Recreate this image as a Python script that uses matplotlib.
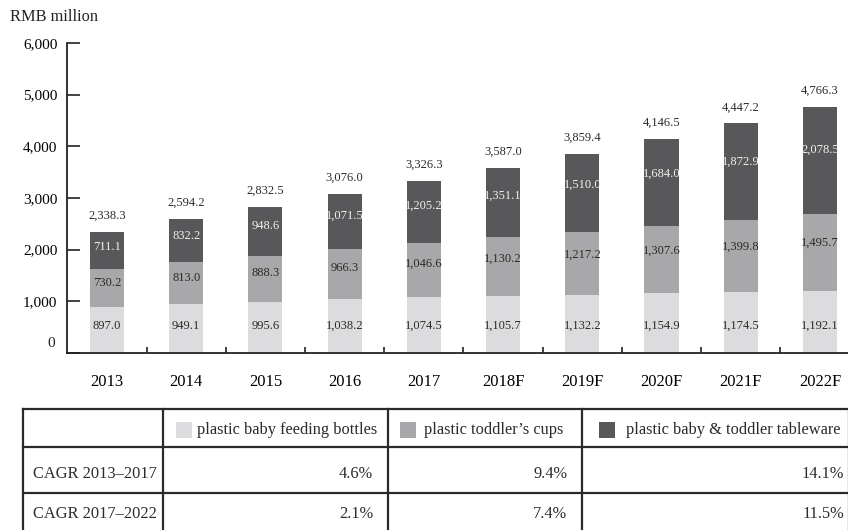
import matplotlib
matplotlib.use("Agg")
import matplotlib.pyplot as plt
from matplotlib.patches import Rectangle
import numpy as np

plt.rcParams['font.family'] = ['Liberation Serif', 'DejaVu Serif']

years = ['2013', '2014', '2015', '2016', '2017', '2018F', '2019F', '2020F', '2021F', '2022F']
bottles = [897.0, 949.1, 995.6, 1038.2, 1074.5, 1105.7, 1132.2, 1154.9, 1174.5, 1192.1]
cups = [730.2, 813.0, 888.3, 966.3, 1046.6, 1130.2, 1217.2, 1307.6, 1399.8, 1495.7]
tableware = [711.1, 832.2, 948.6, 1071.5, 1205.2, 1351.1, 1510.0, 1684.0, 1872.9, 2078.5]
totals = [2338.3, 2594.2, 2832.5, 3076.0, 3326.3, 3587.0, 3859.4, 4146.5, 4447.2, 4766.3]

series_names = ['plastic baby feeding bottles', "plastic toddler\u2019s cups",
                'plastic baby & toddler tableware']
cagr_rows = ['CAGR 2013\u20132017', 'CAGR 2017\u20132022']
cagr_13_17 = ['4.6%', '9.4%', '14.1%']
cagr_17_22 = ['2.1%', '7.4%', '11.5%']

colors = ['#dcdcde', '#a8a8ab', '#58585b']
text_dark = '#2a2a2a'

W, H = 848, 530
fig = plt.figure(figsize=(W / 100, H / 100), dpi=100)


def fx(px):
    return px / W


def fy(py):
    return 1 - py / H


ax = fig.add_axes([fx(67), fy(353), fx(848 - 67), (353 - 43) / H])

x = np.arange(len(years))
bw = 0.43
b0 = np.array(bottles)
b1 = b0 + np.array(cups)

ax.bar(x, bottles, bw, color=colors[0], zorder=2)
ax.bar(x, cups, bw, bottom=b0, color=colors[1], zorder=2)
ax.bar(x, tableware, bw, bottom=b1, color=colors[2], zorder=2)

for i in range(len(years)):
    ax.text(x[i], 520, f'{bottles[i]:,.1f}', ha='center', va='center',
            fontsize=9, color=text_dark, zorder=3)
    ax.text(x[i], b0[i] + 0.63 * cups[i], f'{cups[i]:,.1f}', ha='center', va='center',
            fontsize=9, color=text_dark, zorder=3)
    ax.text(x[i], b1[i] + 0.6 * tableware[i], f'{tableware[i]:,.1f}', ha='center', va='center',
            fontsize=9, color='#f0f0f0', zorder=3)
    ax.annotate(f'{totals[i]:,.1f}', (x[i], totals[i]), xytext=(0, 11.5),
                textcoords='offset points', ha='center', va='center',
                fontsize=9, color=text_dark)

ax.set_xlim(-0.505, 9.354)
ax.set_ylim(0, 6000)

for s in ['top', 'right']:
    ax.spines[s].set_visible(False)
for s in ['left', 'bottom']:
    ax.spines[s].set_linewidth(1.3)
    ax.spines[s].set_color('#222222')

yt = [0, 1000, 2000, 3000, 4000, 5000, 6000]
ax.set_yticks(yt)
ax.set_yticklabels([''] + [f'{v:,}' for v in yt[1:]])
ax.tick_params(axis='y', direction='in', length=9.5, width=1.2, color='#222222',
               pad=7, labelsize=11)
ax.annotate('0', (0, 0), xycoords=('axes fraction', 'data'), xytext=(-9, 7),
            textcoords='offset points', ha='right', va='center', fontsize=11,
            color='#222222')

ax.set_xticks(x)
ax.set_xticklabels(years, fontsize=12)
ax.tick_params(axis='x', which='major', length=0, pad=15)
ax.set_xticks(x[:-1] + 0.5, minor=True)
ax.tick_params(axis='x', which='minor', direction='in', length=4.5, width=1.2,
               color='#222222')

fig.text(fx(10), fy(17), 'RMB million', ha='left', va='center', fontsize=11.8,
         color='#222222')

# table underneath the chart
col_edges = [23, 163, 388, 582, 849]
row_edges = [409, 447, 493, 540]
lc = '#2a2a2a'
for yy in row_edges:
    fig.add_artist(plt.Line2D([fx(col_edges[0]), fx(col_edges[-1])], [fy(yy), fy(yy)],
                              color=lc, lw=1.6))
for xx in col_edges:
    fig.add_artist(plt.Line2D([fx(xx), fx(xx)], [fy(row_edges[0]), fy(row_edges[-1])],
                              color=lc, lw=1.6))

hdr_y = (row_edges[0] + row_edges[1]) / 2 + 2
sq_off = [13, 12, 17]
txt_off = [34, 36, 44]
for j, name in enumerate(series_names):
    left = col_edges[j + 1]
    fig.add_artist(Rectangle((fx(left + sq_off[j]), fy(hdr_y + 8)), fx(16), 16 / H,
                             facecolor=colors[j], edgecolor='none'))
    fig.text(fx(left + txt_off[j]), fy(hdr_y), name, ha='left', va='center',
             fontsize=11.8, color=text_dark)

row_ys = [474, 514]
for r, (lab, vals) in enumerate(zip(cagr_rows, [cagr_13_17, cagr_17_22])):
    fig.text(fx(33), fy(row_ys[r]), lab, ha='left', va='center', fontsize=11.8,
             color=text_dark)
    for j, v in enumerate(vals):
        fig.text(fx(col_edges[j + 2] - 15 if j < 2 else 844), fy(row_ys[r]), v,
                 ha='right', va='center', fontsize=11.8, color=text_dark)

fig.savefig('out.png', dpi=100)
